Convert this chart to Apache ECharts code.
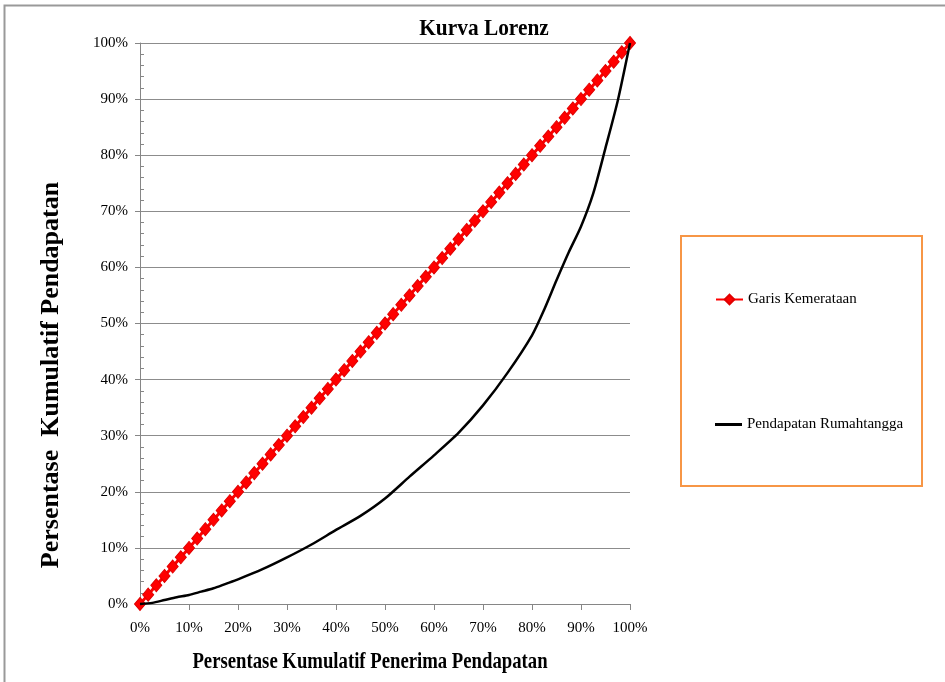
<!DOCTYPE html>
<html>
<head>
<meta charset="utf-8">
<script src="https://cdn.jsdelivr.net/npm/echarts@6/dist/echarts.min.js"></script>
<style>html,body{margin:0;padding:0;background:#fff}#c{width:945px;height:682px}</style>
</head>
<body>
<div id="c"></div>
<script>
// Equality line: cumulative % of recipients == cumulative % of income (61 points)
var equalityShare = [0, 1.67, 3.33, 5, 6.67, 8.33, 10, 11.67, 13.33, 15, 16.67, 18.33, 20, 21.67, 23.33, 25, 26.67, 28.33, 30, 31.67, 33.33, 35, 36.67, 38.33, 40, 41.67, 43.33, 45, 46.67, 48.33, 50, 51.67, 53.33, 55, 56.67, 58.33, 60, 61.67, 63.33, 65, 66.67, 68.33, 70, 71.67, 73.33, 75, 76.67, 78.33, 80, 81.67, 83.33, 85, 86.67, 88.33, 90, 91.67, 93.33, 95, 96.67, 98.33, 100];
// Household income Lorenz curve
var householdX = [0, 2.5, 5, 7.5, 10, 12.5, 15, 17.5, 20, 25, 30, 35, 40, 45, 50, 55, 60, 65, 70, 75, 80, 82.5, 85, 87.5, 90, 92.5, 95, 97.5, 100];
var householdY = [0, 0.2, 0.7, 1.2, 1.6, 2.2, 2.8, 3.6, 4.4, 6.2, 8.3, 10.6, 13.2, 15.7, 18.8, 22.7, 26.5, 30.5, 35.4, 41.2, 47.9, 52.5, 57.7, 62.7, 67.3, 73.2, 81.3, 89.7, 100];
var tickValues = [0, 10, 20, 30, 40, 50, 60, 70, 80, 90, 100];
var seriesNames = ['Garis Kemerataan', 'Pendapatan Rumahtangga'];
var chartTitle = 'Kurva Lorenz';
var xTitle = 'Persentase Kumulatif Penerima Pendapatan';
var yTitle = 'Persentase  Kumulatif Pendapatan';

var FONT = '"Liberation Serif", "Times New Roman", serif';
var chart = echarts.init(document.getElementById('c'));
var eqData = equalityShare.map(function (v) { return [v, v]; });
var hhData = householdX.map(function (v, i) { return [v, householdY[i]]; });
var axisGray = '#868686';

chart.setOption({
  animation: false,
  backgroundColor: '#fff',
  grid: { left: 140, right: 315, top: 43, bottom: 78, containLabel: false },
  xAxis: {
    type: 'value', min: tickValues[0], max: tickValues[tickValues.length - 1], interval: 10,
    axisLine: { show: true, lineStyle: { color: axisGray, width: 1 } },
    axisTick: { show: true, length: 6, lineStyle: { color: axisGray } },
    splitLine: { show: false },
    axisLabel: { formatter: '{value}%', color: '#000', fontFamily: FONT, fontSize: 15, margin: 17 }
  },
  yAxis: [{
    type: 'value', min: tickValues[0], max: tickValues[tickValues.length - 1], interval: 10,
    axisLine: { show: true, lineStyle: { color: axisGray, width: 1 } },
    axisTick: { show: true, length: 5, lineStyle: { color: axisGray } },
    splitLine: { show: true, lineStyle: { color: '#8c8c8c', width: 1 } },
    axisLabel: { formatter: '{value}%', color: '#000', fontFamily: FONT, fontSize: 15, margin: 12 }
  }, {
    type: 'value', min: 0, max: 100, interval: 10, position: 'left',
    axisLine: { show: false },
    axisTick: { show: false, inside: true },
    minorTick: { show: true, splitNumber: 5, length: 4, lineStyle: { color: axisGray } },
    splitLine: { show: false },
    axisLabel: { show: false }
  }],
  legend: [{
    data: [seriesNames[0]], left: 710, top: 287, itemWidth: 27, itemHeight: 12,
    textStyle: { fontFamily: FONT, fontSize: 15, color: '#000' }
  }, {
    data: [{ name: seriesNames[1], icon: 'rect' }], left: 710, top: 412, itemWidth: 27, itemHeight: 3,
    textStyle: { fontFamily: FONT, fontSize: 15, color: '#000' }
  }],
  series: [{
    name: seriesNames[0], type: 'line', data: eqData,
    symbol: 'diamond', symbolSize: [11, 13], showAllSymbol: true,
    lineStyle: { color: '#ff0000', width: 3 },
    itemStyle: { color: '#ff0000', borderColor: '#e00000', borderWidth: 1 },
    clip: false, z: 2
  }, {
    name: seriesNames[1], type: 'line', data: hhData,
    symbol: 'none', smooth: 0.25,
    lineStyle: { color: '#000', width: 2.5 },
    itemStyle: { color: '#000' },
    clip: false, z: 3
  }],
  graphic: [
    { type: 'rect', shape: { x: 4.5, y: 5.5, width: 1000, height: 800 }, style: { fill: 'none', stroke: '#999', lineWidth: 2 }, silent: true },
    { type: 'rect', shape: { x: 681, y: 236, width: 241, height: 250 }, style: { fill: 'none', stroke: '#f79646', lineWidth: 2 }, silent: true },
    { type: 'text', x: 484, y: 29, scaleX: 0.89, style: { text: chartTitle, font: 'bold 24px ' + FONT, fill: '#000', textAlign: 'center', textVerticalAlign: 'middle' } },
    { type: 'text', x: 370, y: 662, scaleX: 0.78, style: { text: xTitle, font: 'bold 24px ' + FONT, fill: '#000', textAlign: 'center', textVerticalAlign: 'middle' } },
    { type: 'text', x: 51, y: 375, rotation: Math.PI / 2, style: { text: yTitle, font: 'bold 26px ' + FONT, fill: '#000', textAlign: 'center', textVerticalAlign: 'middle' } }
  ]
});
</script>
</body>
</html>
